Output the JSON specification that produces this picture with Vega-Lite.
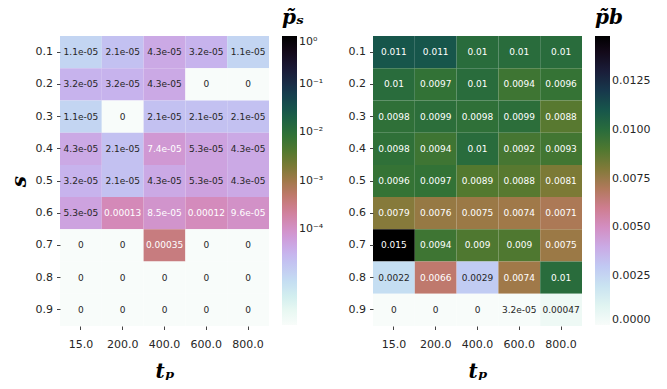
{
  "$schema": "https://vega.github.io/schema/vega-lite/v6.json",
  "background": "white",
  "padding": {"left": 9, "top": 8, "right": 5, "bottom": 5},
  "data": {"values": [
    {"tp":"15.0","s":"0.1","ps":1.1e-5,"psl":"1.1e-05","pb":0.011,"pbl":"0.011"},
    {"tp":"200.0","s":"0.1","ps":2.1e-5,"psl":"2.1e-05","pb":0.011,"pbl":"0.011"},
    {"tp":"400.0","s":"0.1","ps":4.3e-5,"psl":"4.3e-05","pb":0.01,"pbl":"0.01"},
    {"tp":"600.0","s":"0.1","ps":3.2e-5,"psl":"3.2e-05","pb":0.01,"pbl":"0.01"},
    {"tp":"800.0","s":"0.1","ps":1.1e-5,"psl":"1.1e-05","pb":0.01,"pbl":"0.01"},
    {"tp":"15.0","s":"0.2","ps":3.2e-5,"psl":"3.2e-05","pb":0.01,"pbl":"0.01"},
    {"tp":"200.0","s":"0.2","ps":3.2e-5,"psl":"3.2e-05","pb":0.0097,"pbl":"0.0097"},
    {"tp":"400.0","s":"0.2","ps":4.3e-5,"psl":"4.3e-05","pb":0.01,"pbl":"0.01"},
    {"tp":"600.0","s":"0.2","ps":0,"psl":"0","pb":0.0094,"pbl":"0.0094"},
    {"tp":"800.0","s":"0.2","ps":0,"psl":"0","pb":0.0096,"pbl":"0.0096"},
    {"tp":"15.0","s":"0.3","ps":1.1e-5,"psl":"1.1e-05","pb":0.0098,"pbl":"0.0098"},
    {"tp":"200.0","s":"0.3","ps":0,"psl":"0","pb":0.0099,"pbl":"0.0099"},
    {"tp":"400.0","s":"0.3","ps":2.1e-5,"psl":"2.1e-05","pb":0.0098,"pbl":"0.0098"},
    {"tp":"600.0","s":"0.3","ps":2.1e-5,"psl":"2.1e-05","pb":0.0099,"pbl":"0.0099"},
    {"tp":"800.0","s":"0.3","ps":2.1e-5,"psl":"2.1e-05","pb":0.0088,"pbl":"0.0088"},
    {"tp":"15.0","s":"0.4","ps":4.3e-5,"psl":"4.3e-05","pb":0.0098,"pbl":"0.0098"},
    {"tp":"200.0","s":"0.4","ps":2.1e-5,"psl":"2.1e-05","pb":0.0094,"pbl":"0.0094"},
    {"tp":"400.0","s":"0.4","ps":7.4e-5,"psl":"7.4e-05","pb":0.01,"pbl":"0.01"},
    {"tp":"600.0","s":"0.4","ps":5.3e-5,"psl":"5.3e-05","pb":0.0092,"pbl":"0.0092"},
    {"tp":"800.0","s":"0.4","ps":4.3e-5,"psl":"4.3e-05","pb":0.0093,"pbl":"0.0093"},
    {"tp":"15.0","s":"0.5","ps":3.2e-5,"psl":"3.2e-05","pb":0.0096,"pbl":"0.0096"},
    {"tp":"200.0","s":"0.5","ps":2.1e-5,"psl":"2.1e-05","pb":0.0097,"pbl":"0.0097"},
    {"tp":"400.0","s":"0.5","ps":4.3e-5,"psl":"4.3e-05","pb":0.0089,"pbl":"0.0089"},
    {"tp":"600.0","s":"0.5","ps":5.3e-5,"psl":"5.3e-05","pb":0.0088,"pbl":"0.0088"},
    {"tp":"800.0","s":"0.5","ps":4.3e-5,"psl":"4.3e-05","pb":0.0081,"pbl":"0.0081"},
    {"tp":"15.0","s":"0.6","ps":5.3e-5,"psl":"5.3e-05","pb":0.0079,"pbl":"0.0079"},
    {"tp":"200.0","s":"0.6","ps":0.00013,"psl":"0.00013","pb":0.0076,"pbl":"0.0076"},
    {"tp":"400.0","s":"0.6","ps":8.5e-5,"psl":"8.5e-05","pb":0.0075,"pbl":"0.0075"},
    {"tp":"600.0","s":"0.6","ps":0.00012,"psl":"0.00012","pb":0.0074,"pbl":"0.0074"},
    {"tp":"800.0","s":"0.6","ps":9.6e-5,"psl":"9.6e-05","pb":0.0071,"pbl":"0.0071"},
    {"tp":"15.0","s":"0.7","ps":0,"psl":"0","pb":0.0148,"pbl":"0.015"},
    {"tp":"200.0","s":"0.7","ps":0,"psl":"0","pb":0.0094,"pbl":"0.0094"},
    {"tp":"400.0","s":"0.7","ps":0.00035,"psl":"0.00035","pb":0.009,"pbl":"0.009"},
    {"tp":"600.0","s":"0.7","ps":0,"psl":"0","pb":0.009,"pbl":"0.009"},
    {"tp":"800.0","s":"0.7","ps":0,"psl":"0","pb":0.0075,"pbl":"0.0075"},
    {"tp":"15.0","s":"0.8","ps":0,"psl":"0","pb":0.0022,"pbl":"0.0022"},
    {"tp":"200.0","s":"0.8","ps":0,"psl":"0","pb":0.0066,"pbl":"0.0066"},
    {"tp":"400.0","s":"0.8","ps":0,"psl":"0","pb":0.0029,"pbl":"0.0029"},
    {"tp":"600.0","s":"0.8","ps":0,"psl":"0","pb":0.0074,"pbl":"0.0074"},
    {"tp":"800.0","s":"0.8","ps":0,"psl":"0","pb":0.01,"pbl":"0.01"},
    {"tp":"15.0","s":"0.9","ps":0,"psl":"0","pb":0,"pbl":"0"},
    {"tp":"200.0","s":"0.9","ps":0,"psl":"0","pb":0,"pbl":"0"},
    {"tp":"400.0","s":"0.9","ps":0,"psl":"0","pb":0,"pbl":"0"},
    {"tp":"600.0","s":"0.9","ps":0,"psl":"0","pb":3.2e-5,"pbl":"3.2e-05"},
    {"tp":"800.0","s":"0.9","ps":0,"psl":"0","pb":0.00047,"pbl":"0.00047"}
  ]},
  "spacing": 24,
  "resolve": {"scale": {"color": "independent"}},
  "hconcat": [
    {
      "width": 209,
      "height": 290,
      "encoding": {
        "x": {"field": "tp", "type": "ordinal", "sort": ["15.0","200.0","400.0","600.0","800.0"], "scale": {"paddingInner": 0, "paddingOuter": 0}, "axis": {"title": "tₚ", "labelAngle": 0}},
        "y": {"field": "s", "type": "ordinal", "scale": {"paddingInner": 0, "paddingOuter": 0}, "axis": {"title": "s", "labelPadding": 4, "titlePadding": 6}}
      },
      "layer": [
        {
          "mark": {"type": "rect", "invalid": "show"},
          "encoding": {
            "color": {
              "field": "ps", "type": "quantitative",
              "scale": {"type": "log", "domain": [1e-6, 1], "clamp": true, "interpolate": "rgb",
                "range": ["#f8fcfa","#e8f8f2","#d2eeef","#c5def2","#c1caf3","#c7b3ed","#cf9cda","#d48aba","#d07e93","#be796a","#a07949","#7a7a35","#54792f","#347335","#1f6642","#16534c","#163d4e","#1a2744","#1a1530","#120817","#000000"]},
              "legend": {"title": "p̃ₛ", "orient": "none", "legendX": 222, "legendY": -28, "gradientLength": 289, "gradientThickness": 15, "gradientStrokeWidth": 0,
                "values": [0.0001, 0.001, 0.01, 0.1, 1],
                "labelExpr": "datum.value > 0.5 ? '10⁰' : datum.value > 0.05 ? '10⁻¹' : datum.value > 0.005 ? '10⁻²' : datum.value > 0.0005 ? '10⁻³' : '10⁻⁴'"}
            }
          }
        },
        {
          "mark": {"type": "text", "fontSize": 9, "font": "DejaVu Sans"},
          "encoding": {
            "text": {"field": "psl"},
            "color": {"condition": {"test": "datum.ps > 6e-5", "value": "white"}, "value": "#262626"}
          }
        }
      ]
    },
    {
      "width": 209,
      "height": 290,
      "encoding": {
        "x": {"field": "tp", "type": "ordinal", "sort": ["15.0","200.0","400.0","600.0","800.0"], "scale": {"paddingInner": 0, "paddingOuter": 0}, "axis": {"title": "tₚ", "labelAngle": 0}},
        "y": {"field": "s", "type": "ordinal", "scale": {"paddingInner": 0, "paddingOuter": 0}, "axis": {"title": null, "labelPadding": 4}}
      },
      "layer": [
        {
          "mark": {"type": "rect"},
          "encoding": {
            "color": {
              "field": "pb", "type": "quantitative",
              "scale": {"type": "linear", "domain": [0, 0.0148], "interpolate": "rgb", "zero": true, "nice": false,
                "range": ["#f8fcfa","#e8f8f2","#d2eeef","#c5def2","#c1caf3","#c7b3ed","#cf9cda","#d48aba","#d07e93","#be796a","#a07949","#7a7a35","#54792f","#347335","#1f6642","#16534c","#163d4e","#1a2744","#1a1530","#120817","#000000"]},
              "legend": {"title": "p̃b", "orient": "none", "legendX": 222, "legendY": -28, "gradientLength": 289, "gradientThickness": 15, "gradientStrokeWidth": 0,
                "values": [0, 0.0025, 0.005, 0.0075, 0.01, 0.0125], "format": ".4f"}
            }
          }
        },
        {
          "mark": {"type": "text", "fontSize": 9, "font": "DejaVu Sans"},
          "encoding": {
            "text": {"field": "pbl"},
            "color": {"condition": {"test": "datum.pb > 0.004", "value": "white"}, "value": "#262626"}
          }
        }
      ]
    }
  ],
  "config": {
    "view": {"stroke": null},
    "scale": {"invalid": {"color": {"value": "#f8fcfa"}}},
    "axis": {"domain": false, "grid": false, "tickColor": "#444", "tickSize": 3.5, "labelFont": "DejaVu Sans", "labelFontSize": 11, "labelColor": "#262626", "labelPadding": 9,
      "titleFont": "DejaVu Serif", "titleFontStyle": "italic", "titleFontWeight": "bold", "titleFontSize": 20, "titleColor": "black", "titlePadding": 12},
    "legend": {"titleFont": "DejaVu Serif", "titleFontStyle": "italic", "titleFontWeight": "bold", "titleFontSize": 20, "titleColor": "black", "titlePadding": 8,
      "labelFont": "DejaVu Sans", "labelFontSize": 11, "labelColor": "#262626", "labelOffset": 5}
  }
}
